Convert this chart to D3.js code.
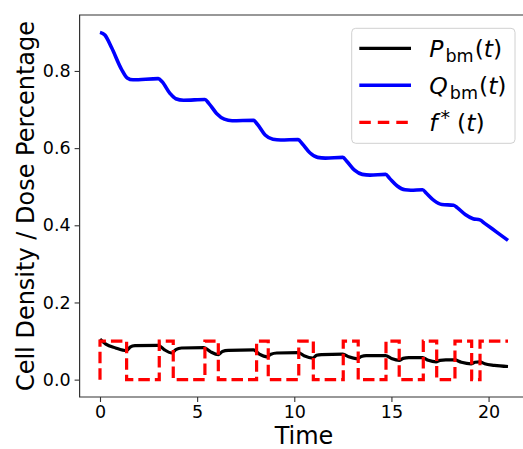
<!DOCTYPE html>
<html><head><meta charset="utf-8">
<script src="https://cdn.jsdelivr.net/npm/d3@7"></script>
<style>body{margin:0;background:#fff}svg{display:block}text{font-family:"DejaVu Sans",sans-serif}</style>
</head><body>
<svg id="c" width="523" height="449"></svg>
<script>
// ---- data ----
const pTimes = [0,0.3,0.8,1.37,1.55,1.8,3.0,3.3,3.7,3.9,4.2,5.35,5.7,6.1,6.3,6.6,7.9,8.2,8.6,8.8,9.1,10.2,10.5,10.95,11.15,11.4,12.5,12.8,13.25,13.45,13.7,14.7,15.0,15.4,15.6,15.9,16.6,16.9,17.3,17.5,17.8,18.25,18.6,19.1,19.3,19.55,19.8,20.3,21.0];
const pValues = [0.105,0.092,0.082,0.075,0.084,0.088,0.089,0.078,0.069,0.078,0.082,0.083,0.072,0.065,0.073,0.076,0.077,0.066,0.059,0.066,0.069,0.070,0.062,0.056,0.063,0.065,0.066,0.059,0.054,0.060,0.062,0.062,0.055,0.050,0.055,0.057,0.057,0.050,0.046,0.050,0.051,0.051,0.045,0.041,0.045,0.046,0.041,0.037,0.034];
const qTimes = [0,0.25,0.6,1.1,1.4,1.7,3.0,3.2,3.6,3.9,4.3,5.4,5.6,6.0,6.4,6.8,7.9,8.1,8.5,8.9,9.3,10.2,10.4,10.8,11.2,11.6,12.5,12.7,13.1,13.5,13.9,14.7,14.9,15.3,15.7,16.0,16.6,16.8,17.2,17.6,18.2,18.4,18.8,19.2,19.55,19.8,20.4,21.0];
const qValues = [0.900,0.893,0.860,0.805,0.782,0.777,0.780,0.772,0.742,0.728,0.724,0.726,0.716,0.690,0.675,0.671,0.672,0.662,0.634,0.623,0.621,0.622,0.612,0.588,0.576,0.574,0.576,0.566,0.543,0.532,0.530,0.532,0.522,0.502,0.492,0.491,0.492,0.483,0.464,0.454,0.452,0.445,0.428,0.417,0.414,0.405,0.383,0.361];
const fTimes = [0,0,1.37,3.05,3.77,5.4,6.09,8.06,8.66,10.23,10.98,12.52,13.29,14.72,15.4,16.64,17.33,18.27,19.13,19.56,21.0];
const fValues = [0,0.1,0,0.1,0,0.1,0,0.1,0,0.1,0,0.1,0,0.1,0,0.1,0,0.1,0,0.1,0.1];
const xTicks = [0,5,10,15,20];
const yTicks = [0,0.2,0.4,0.6,0.8];
const seriesNames = ["P","Q","f"];

// ---- layout ----
const svg = d3.select("#c");
const L = 79.6, R = 528.4, T = 15, B = 397;
const x = d3.scaleLinear().domain([-1.05, 22.05]).range([L, R]);
const y = d3.scaleLinear().domain([-0.045, 0.945]).range([B, T]);

const toPts = (ts, vs) => ts.map((t, i) => [t, vs[i]]);
const line = d3.line().x(d => x(d[0])).y(d => y(d[1]));

// axes
const gx = svg.append("g").attr("transform", `translate(0,${B})`)
  .call(d3.axisBottom(x).tickValues(xTicks).tickSize(5).tickPadding(4).tickFormat(d3.format("d")));
const gy = svg.append("g").attr("transform", `translate(${L},0)`)
  .call(d3.axisLeft(y).tickValues(yTicks).tickSize(5).tickPadding(4).tickFormat(d3.format(".1f")));
[gx, gy].forEach(g => {
  g.select(".domain").remove();
  g.selectAll(".tick line").attr("stroke", "#333").attr("stroke-width", 1.1);
  g.selectAll(".tick text").attr("font-size", 17.5).attr("fill", "#000").attr("font-family", "DejaVu Sans");
});

// series
svg.append("path").datum(toPts(pTimes, pValues)).attr("d", line.curve(d3.curveMonotoneX))
  .attr("fill", "none").attr("stroke", "#000").attr("stroke-width", 3.2).attr("stroke-linejoin", "round");
svg.append("path").datum(toPts(qTimes, qValues)).attr("d", line.curve(d3.curveMonotoneX))
  .attr("fill", "none").attr("stroke", "#0000ff").attr("stroke-width", 3.6).attr("stroke-linejoin", "round");
svg.append("path").datum(toPts(fTimes, fValues)).attr("d", line.curve(d3.curveStepAfter))
  .attr("fill", "none").attr("stroke", "#ff0000").attr("stroke-width", 3.2).attr("stroke-dasharray", "11.5,5");

// spines
svg.append("path").attr("d", `M${R},${T}H${L}V${B}H${R}`).attr("fill", "none")
  .attr("stroke", "#333").attr("stroke-width", 1.2);

// axis labels
svg.append("text").attr("x", (L + R) / 2).attr("y", 444).attr("text-anchor", "middle")
  .attr("font-size", 24).text("Time");
svg.append("text").attr("transform", `translate(34,${(T + B) / 2}) rotate(-90)`)
  .attr("text-anchor", "middle").attr("font-size", 24).text("Cell Density / Dose Percentage");

// legend
const lg = svg.append("g");
lg.append("rect").attr("x", 351.7).attr("y", 28.3).attr("width", 163.3).attr("height", 115)
  .attr("rx", 4).attr("fill", "#fff").attr("fill-opacity", 0.8).attr("stroke", "#d0d0d0").attr("stroke-width", 1);
const rows = [
  {name: seriesNames[0], color: "#000", dash: null, w: 3.2},
  {name: seriesNames[1], color: "#0000ff", dash: null, w: 3.6},
  {name: seriesNames[2], color: "#ff0000", dash: "11.5,7", w: 3.2}
];
rows.forEach((r, i) => {
  const cy = 48.3 + i * 37;
  lg.append("line").attr("x1", 359.3).attr("x2", 411).attr("y1", cy).attr("y2", cy)
    .attr("stroke", r.color).attr("stroke-width", r.w).attr("stroke-dasharray", r.dash);
  const t = lg.append("text").attr("x", 429.3).attr("y", cy + 8.4).attr("font-size", 23.5);
  if (r.name === "f") {
    t.append("tspan").attr("font-style", "italic").text("f");
    t.append("tspan").attr("dx", 3).attr("dy", -7).attr("font-size", 19).text("*");
    t.append("tspan").attr("dx", 7).attr("dy", 7).text("(");
    t.append("tspan").attr("font-style", "italic").text("t");
    t.append("tspan").text(")");
  } else {
    t.append("tspan").attr("font-style", "italic").text(r.name);
    t.append("tspan").attr("dx", 2).attr("dy", 5).attr("font-size", 17.5).text("bm");
    t.append("tspan").attr("dx", 1).attr("dy", -5).text("(");
    t.append("tspan").attr("font-style", "italic").text("t");
    t.append("tspan").text(")");
  }
});
</script>
</body></html>
